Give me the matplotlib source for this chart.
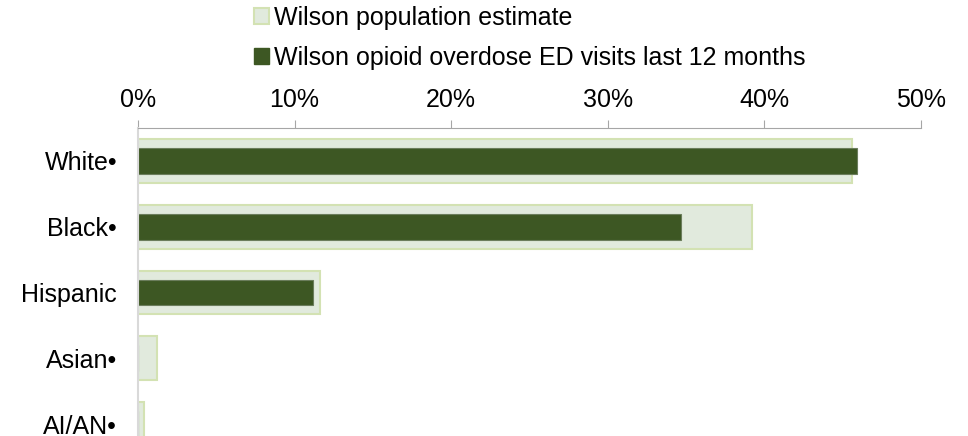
import matplotlib.pyplot as plt
import numpy as np
from matplotlib.patches import Patch

plt.rcParams['font.family'] = ['Liberation Sans', 'DejaVu Sans']

categories = ["White\u2022", "Black\u2022", "Hispanic", "Asian\u2022", "AI/AN\u2022"]
population = [45.6, 39.2, 11.6, 1.2, 0.4]
ed_visits = [45.9, 34.7, 11.2, 0.0, 0.0]
xticks = [0, 10, 20, 30, 40, 50]

pop_fill = "#e1eadd"
pop_edge = "#d3e2b3"
ed_fill = "#3d5723"
axis_grey = "#a6a6a6"
fs = 18

fig = plt.figure(figsize=(9.68, 4.36), dpi=100)
ax = fig.add_axes([138 / 968, 1 - 457 / 436, 783 / 968, 329 / 436])

y = np.arange(len(categories))
ax.barh(y, population, height=0.667, color=pop_fill, edgecolor=pop_edge, linewidth=1.5,
        label="Wilson population estimate")
ax.barh(y, ed_visits, height=0.39, color=ed_fill, edgecolor="#6b7d5c", linewidth=0.8,
        label="Wilson opioid overdose ED visits last 12 months")

ax.set_xlim(0, 50)
ax.set_ylim(4.5, -0.5)
ax.set_yticks(y)
ax.set_yticklabels(categories, fontsize=fs)
ax.tick_params(axis='y', length=0, pad=15)

ax.xaxis.tick_top()
ax.set_xticks(xticks)
ax.set_xticklabels([f"{v}%" for v in xticks], fontsize=fs)
ax.tick_params(axis='x', direction='out', length=5.5, color=axis_grey, pad=6)

for s in ['right', 'bottom']:
    ax.spines[s].set_visible(False)
ax.spines['top'].set_color(axis_grey)
ax.spines['left'].set_color("#d9d9d9")
ax.spines['left'].set_linewidth(1.5)

handles = [Patch(facecolor=pop_fill, edgecolor=pop_edge, linewidth=1.5),
           Patch(facecolor=ed_fill, edgecolor=ed_fill)]
labels = ["Wilson population estimate", "Wilson opioid overdose ED visits last 12 months"]
fig.legend(handles, labels, loc='upper left', bbox_to_anchor=(254 / 968, 1 - 6 / 436),
           frameon=False, fontsize=fs, handlelength=0.6, handleheight=0.6,
           handletextpad=0.2, labelspacing=0.65, borderaxespad=0.0, borderpad=0.0)

fig.savefig("out.png", dpi=100)
